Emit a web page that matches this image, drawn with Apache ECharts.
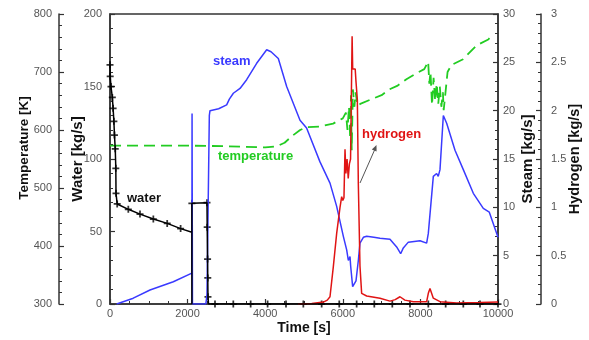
<!DOCTYPE html>
<html>
<head>
<meta charset="utf-8">
<script src="https://cdn.jsdelivr.net/npm/echarts@6/dist/echarts.min.js"></script>
<style>
  html, body { margin: 0; padding: 0; background: #fff; }
  #chart { width: 589px; height: 340px; }
</style>
</head>
<body>
<div id="chart"></div>
<script>
// water [kg/s], left inner axis
const waterT = [0, 5, 25, 60, 80, 100, 115, 135, 150, 155, 185, 472, 773, 1117, 1474, 1820, 2110, 2110, 2110, 2500, 2505, 2515, 2520, 2525, 2540, 10000]
const waterV = [165, 157, 150, 142.5, 135, 126, 116.5, 107, 93.6, 76.3, 69, 65.3, 62, 58.6, 55.6, 52, 49.5, 0, 69.4, 69.9, 53, 31, 18, 5, 0, 0]
// '+' markers on the water curve
const waterMarkT = [0, 5, 25, 60, 80, 100, 115, 135, 150, 155, 185, 472, 773, 1117, 1474, 1820, 2110, 2500, 2505, 2515, 2520, 2525,
	2706, 3178, 3625, 4062, 4536, 4983, 5455, 5909, 6357, 6812, 7276, 7732, 8204, 8651, 9106, 9536, 10000]
const waterMarkV = [165, 157, 150, 142.5, 135, 126, 116.5, 107, 93.6, 76.3, 69, 65.3, 62, 58.6, 55.6, 52, 69.4, 69.9, 53, 31, 18, 5,
	0, 0, 0, 0, 0, 0, 0, 0, 0, 0, 0, 0, 0, 0, 0, 0, 0]

// steam [kg/s], right axis
const steamT = [172, 600, 1031, 1632, 2110, 2115, 2125, 2470, 2500, 2560, 2577, 2800, 3007, 3076, 3179, 3351, 3522, 3780, 4038, 4150,
	4338, 4553, 4897, 5067, 5412, 5670, 5842, 6014, 6100, 6143, 6186, 6203, 6254, 6300, 6340, 6400, 6443, 6530, 6615, 6800,
	6959, 7216, 7388, 7491, 7560, 7689, 7990, 8161, 8204, 8333, 8380, 8419, 8460, 8505, 8591, 8677, 8892, 9106, 9364, 9621,
	9776, 10000]
const steamV = [0, 0.6, 1.45, 2.3, 3.2, 19.7, 0, 0, 1.0, 19.5, 20.0, 20.2, 20.6, 21.2, 21.8, 22.3, 23.2, 24.9, 26.3, 26.1,
	25.4, 22.5, 19.0, 18.2, 14.7, 12.5, 10.1, 7.0, 5.6, 4.5, 4.9, 3.9, 1.8, 1.9, 2.4, 4.5, 6.3, 6.9, 7.0, 6.9,
	6.8, 6.7, 5.9, 5.2, 5.8, 6.4, 6.55, 6.3, 7.3, 13.2, 13.3, 13.5, 13.2, 13.9, 19.5, 18.7, 15.9, 13.9, 11.45, 9.9,
	9.5, 6.9]

// hydrogen [kg/s], outer right axis
const hydT = [4845, 5200, 5500, 5600, 5670, 5756, 5842, 5928, 5971, 6000, 6030, 6057, 6080, 6110, 6140, 6170, 6200, 6240, 6255, 6320,
	6340, 6375, 6400, 6443, 6486, 6615, 6959, 7216, 7350, 7474, 7600, 7818, 8161, 8204, 8247, 8333, 8505, 8935, 9536, 10000]
const hydV = [0, 0.005, 0.02, 0.04, 0.075, 0.386, 0.73, 1.0, 1.11, 1.07, 1.1, 1.6, 1.35, 1.5, 1.3, 1.45, 1.5, 2.77, 2.43, 2.43,
	2.3, 2.11, 1.25, 0.39, 0.11, 0.083, 0.059, 0.03, 0.045, 0.075, 0.04, 0.024, 0.024, 0.11, 0.16, 0.06, 0.024, 0.01, 0.015, 0.02]

// temperature [K], outer left axis
const tempT = [0, 1000, 2000, 3000, 3500, 4000, 4300, 4500, 4700, 4900, 5067, 5400, 5750, 6000, 6080, 6120, 6160, 6190, 6210, 6230,
	6260, 6300, 6330, 6380, 6450, 6700, 7000, 7200, 7400, 7650, 7900, 8100, 8200, 8230, 8260, 8300, 8340, 8380, 8420, 8460,
	8500, 8540, 8580, 8600, 8700, 8800, 9100, 9450, 9750, 9800]
const tempV = [573, 573, 573, 572, 571, 570, 572, 578, 590, 600, 605, 606, 611, 620, 630, 600, 640, 585, 660, 565,
	670, 640, 665, 642, 645, 652, 660, 670, 676, 688, 698, 705, 718, 680, 700, 643, 690, 650, 680, 645,
	675, 640, 665, 634, 700, 712, 722, 746, 756, 760]

const zip = (xs, ys) => xs.map((x, i) => [x, ys[i]])

const chart = echarts.init(document.getElementById('chart'))

const font = 'Liberation Sans, Arial, sans-serif'
const axisColor = '#333'

function yAxis(extra) {
	return Object.assign({
		type: 'value',
		nameLocation: 'middle',
		nameMoveOverlap: false,
		axisLine: { show: true, lineStyle: { color: axisColor, width: 1.5 } },
		axisTick: { show: true, inside: true, length: 5, lineStyle: { color: axisColor, width: 1.2 } },
		minorTick: { show: true, splitNumber: 5, length: 3, lineStyle: { color: axisColor, width: 1 } },
		splitLine: { show: false }
	}, extra)
}

const label = (margin) => ({ fontFamily: font, fontSize: 11, color: '#555', margin: margin, formatter: (v) => String(v) })
const title = (size, padding) => ({ fontFamily: font, fontSize: size, fontWeight: 'bold', color: '#111', padding: padding || 0 })

const plus = 'path://M3,0h2v3h3v2h-3v3h-2v-3h-3v-2h3z'

const option = {
	animation: false,
	backgroundColor: '#fff',
	grid: {
		left: 110, right: 91, top: 14, bottom: 36,
		containLabel: false, outerBoundsMode: 'none',
		show: true, borderColor: axisColor, borderWidth: 1.5, backgroundColor: 'transparent'
	},
	xAxis: {
		type: 'value', min: 0, max: 10000, interval: 2000,
		name: 'Time [s]', nameLocation: 'middle', nameGap: 17, nameMoveOverlap: false,
		nameTextStyle: title(14),
		axisLine: { lineStyle: { color: axisColor, width: 1.5 } },
		axisTick: { inside: true, length: 5, lineStyle: { color: axisColor, width: 1.2 } },
		minorTick: { show: true, splitNumber: 4, length: 3, lineStyle: { color: axisColor } },
		axisLabel: label(4),
		splitLine: { show: false }
	},
	yAxis: [
		yAxis({ name: 'Water [kg/s]', position: 'left', min: 0, max: 200, interval: 50, nameGap: 25,
			nameTextStyle: title(15), axisLabel: label(8) }),
		yAxis({ name: 'Temperature [K]', position: 'left', offset: 51, min: 300, max: 800, interval: 100, nameGap: 28,
			nameTextStyle: title(13.5, [0, 0, 0, 22]), axisLabel: label(7) }),
		yAxis({ name: 'Steam [kg/s]', position: 'right', min: 0, max: 30, interval: 5, nameGap: 22,
			nameTextStyle: title(15), axisLabel: label(5) }),
		yAxis({ name: 'Hydrogen [kg/s]', position: 'right', offset: 43, min: 0, max: 3, interval: 0.5, nameGap: 26,
			nameTextStyle: title(14.5), axisLabel: label(10) })
	],
	series: [
		{
			name: 'temperature', type: 'line', yAxisIndex: 1, showSymbol: false,
			lineStyle: { color: '#22cc22', width: 1.8, type: [11, 6] },
			data: zip(tempT, tempV)
		},
		{
			name: 'steam', type: 'line', yAxisIndex: 2, showSymbol: false,
			lineStyle: { color: '#3a3aff', width: 1.5 },
			data: zip(steamT, steamV)
		},
		{
			name: 'hydrogen', type: 'line', yAxisIndex: 3, showSymbol: false,
			lineStyle: { color: '#e01414', width: 1.5 },
			data: zip(hydT, hydV)
		},
		{
			name: 'water', type: 'line', yAxisIndex: 0, showSymbol: false,
			lineStyle: { color: '#000', width: 1.5 },
			data: zip(waterT, waterV)
		},
		{
			name: 'water marks', type: 'scatter', yAxisIndex: 0,
			symbol: plus, symbolSize: 7,
			itemStyle: { color: '#000' },
			data: zip(waterMarkT, waterMarkV)
		}
	],
	graphic: [
		{ type: 'text', left: 213, top: 55, style: { text: 'steam', fill: '#3a3aff', font: 'bold 13px ' + font } },
		{ type: 'text', left: 218, top: 150, style: { text: 'temperature', fill: '#22cc22', font: 'bold 13px ' + font } },
		{ type: 'text', left: 362, top: 128, style: { text: 'hydrogen', fill: '#e01414', font: 'bold 13px ' + font } },
		{ type: 'text', left: 127, top: 192, style: { text: 'water', fill: '#111', font: 'bold 13px ' + font } },
		{ type: 'line', shape: { x1: 360, y1: 183, x2: 375, y2: 149 }, style: { stroke: '#555', lineWidth: 1 } },
		{ type: 'polygon', shape: { points: [[376.5, 145], [376.6, 151.5], [371.8, 149.5]] }, style: { fill: '#555' } }
	]
}

chart.setOption(option)
</script>
</body>
</html>
